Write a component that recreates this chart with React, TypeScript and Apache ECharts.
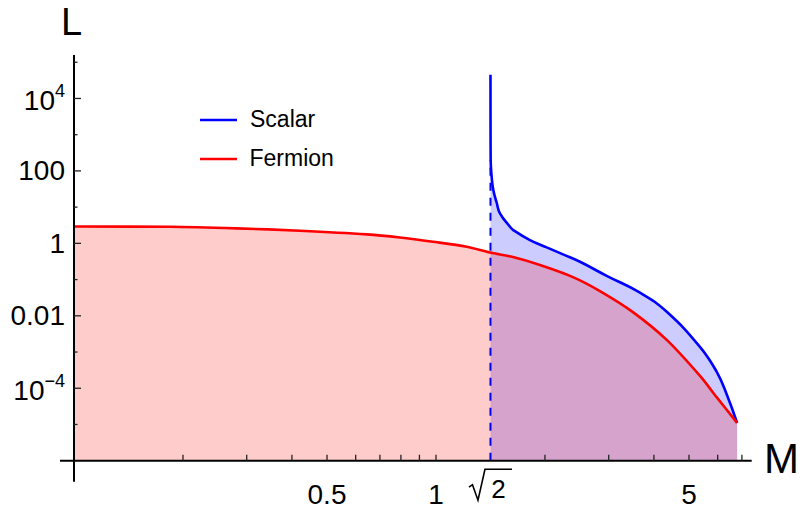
import React, { useEffect, useRef } from "react";
import * as echarts from "echarts";

// ---- data ----
const fermionM = [0.1, 0.184, 0.281, 0.421, 0.644, 0.795, 0.981, 1.216, 1.41, 1.632, 1.938, 2.39, 2.838, 3.5, 4.346, 5.37, 5.96, 6.79];
const fermionL = [2.91, 2.87, 2.6, 2.23, 1.77, 1.45, 1.107, 0.805, 0.557, 0.418, 0.252, 0.117, 0.0481, 0.01265, 0.00213, 2.16e-4, 5.68e-5, 1.11e-5];

const scalarM = [1.4143, 1.4148, 1.416, 1.425, 1.44, 1.472, 1.502, 1.601, 1.635, 1.818, 2.022, 2.243, 2.499, 2.961, 3.66, 4.34, 5.36, 5.96, 6.353, 6.79];
const scalarL = [45000, 2000, 200, 69, 29.7, 13, 6.74, 2.88, 2.33, 1.234, 0.775, 0.497, 0.31, 0.127, 0.0437, 0.0129, 1.39e-3, 2.88e-4, 6.87e-5, 1.11e-5];

const thresholdM = Math.SQRT2;
const thresholdL = [1e-6, 200];

const xTicks = [0.2, 0.3, 0.4, 0.5, 0.6, 0.7, 0.8, 0.9, 1, 2, 3, 4, 5, 6, 7];
const xLabelValues = [0.5, 1, Math.SQRT2, 5];
const xLabelTexts = ["0.5", "1", "√2", "5"];

const yTicks = [1e-5, 1e-4, 1e-3, 1e-2, 1e-1, 1, 10, 100, 1e3, 1e4, 1e5];
const yLabelValues = [1e-4, 1e-2, 1, 100, 1e4];
const yLabelBase = ["10", "0.01", "1", "100", "10"];
const yLabelExp = ["−4", "", "", "", "4"];

const legendNames = ["Scalar", "Fermion"];
const legendColors = ["#0000FF", "#FF0000"];

const X_MIN = 0.1;
const X_MAX = 7.45;
const Y_MIN = 1e-6;
const Y_MAX = Math.pow(10, 5.2);

const FONT = "'Liberation Sans', Arial, Helvetica, sans-serif";

function charW(s: string, size: number) {
  let w = 0;
  for (const ch of s) w += (ch === "−" ? 0.584 : 0.556) * size;
  return w;
}

function renderAxes(_params: any, api: any) {
  const [ox, oy] = api.coord([X_MIN, Y_MIN]);
  const top = api.coord([X_MIN, Y_MAX])[1];
  const right = api.coord([X_MAX, Y_MIN])[0];
  const children: any[] = [];
  const ln = (x1: number, y1: number, x2: number, y2: number, w: number, c: string) => ({
    type: "line",
    shape: { x1, y1, x2, y2 },
    style: { stroke: c, lineWidth: w },
  });
  const txt = (text: string, x: number, y: number, size: number, align: string) => ({
    type: "text",
    style: { text, x, y, fontSize: size, fontFamily: FONT, fill: "#000", align, verticalAlign: "middle" },
  });

  // axis lines (Mathematica-style crossing)
  children.push(ln(ox - 14, oy, right, oy, 2, "#000"));
  children.push(ln(ox, top, ox, oy + 21, 2, "#000"));

  // x ticks
  xTicks.forEach((v) => {
    const px = api.coord([v, Y_MIN])[0];
    children.push(ln(px, oy, px, oy - 6, 1.3, "#222"));
  });
  // y ticks
  yTicks.forEach((v) => {
    const py = api.coord([X_MIN, v])[1];
    const major = yLabelValues.some((l) => Math.abs(Math.log10(l) - Math.log10(v)) < 1e-6);
    children.push(ln(ox, py, ox + (major ? 7 : 3.5), py, 1.3, "#222"));
  });

  // x labels
  xLabelValues.forEach((v, i) => {
    const px = api.coord([v, Y_MIN])[0];
    const t = xLabelTexts[i];
    if (t === "√2") {
      children.push({
        type: "polyline",
        shape: {
          points: [
            [px - 21.5, oy + 26.5],
            [px - 18, oy + 24],
            [px - 12.5, oy + 39.5],
            [px - 5.5, oy + 8.5],
            [px + 21.5, oy + 8.5],
          ],
        },
        style: { stroke: "#000", lineWidth: 1.6, fill: "none" },
      });
      children.push(txt("2", px + 8, oy + 28, 26, "center"));
    } else {
      children.push(txt(t, px, oy + 33.5, 28, "center"));
    }
  });

  // y labels
  yLabelValues.forEach((v, i) => {
    const py = api.coord([X_MIN, v])[1];
    const exp = yLabelExp[i];
    const rightX = ox - 9;
    if (exp) {
      const ew = charW(exp, 18);
      children.push(txt(exp, rightX, py - 7, 18, "right"));
      children.push(txt(yLabelBase[i], rightX - ew, py + 2, 28, "right"));
    } else {
      children.push(txt(yLabelBase[i], rightX, py, 28, "right"));
    }
  });

  return { type: "group", children };
}

export default function App() {
  const ref = useRef<HTMLDivElement>(null);

  useEffect(() => {
    document.body.style.margin = "0";
    const chart = echarts.init(ref.current!, undefined, { renderer: "svg" });

    const scalarData = scalarM.map((m, i) => [m, scalarL[i]]);
    const fermionData = fermionM.map((m, i) => [m, fermionL[i]]);
    const thresholdData = thresholdL.map((l) => [thresholdM, l]);

    const option: any = {
      animation: false,
      backgroundColor: "#ffffff",
      grid: { left: 74, top: 55, right: 52.3, bottom: 55.3, containLabel: false },
      xAxis: {
        type: "log",
        logBase: 10,
        min: X_MIN,
        max: X_MAX,
        axisLine: { show: false },
        axisTick: { show: false },
        axisLabel: { show: false },
        splitLine: { show: false },
      },
      yAxis: {
        type: "log",
        logBase: 10,
        min: Y_MIN,
        max: Y_MAX,
        axisLine: { show: false },
        axisTick: { show: false },
        axisLabel: { show: false },
        splitLine: { show: false },
      },
      series: [
        {
          name: legendNames[0],
          type: "line",
          data: scalarData,
          showSymbol: false,
          smooth: 0.45,
          silent: true,
          z: 2,
          lineStyle: { color: legendColors[0], width: 2.6 },
          areaStyle: { color: legendColors[0], opacity: 0.2, origin: "start" },
        },
        {
          name: legendNames[1],
          type: "line",
          data: fermionData,
          showSymbol: false,
          smooth: 0.3,
          silent: true,
          z: 3,
          lineStyle: { color: legendColors[1], width: 2.6 },
          areaStyle: { color: legendColors[1], opacity: 0.2, origin: "start" },
        },
        {
          name: "threshold",
          type: "line",
          data: thresholdData,
          showSymbol: false,
          silent: true,
          z: 4,
          lineStyle: { color: legendColors[0], width: 2, type: [8, 7] },
        },
        {
          name: "axes",
          type: "custom",
          data: [[1, 1]],
          renderItem: renderAxes,
          silent: true,
          clip: false,
          z: 10,
        },
      ],
      graphic: [
        {
          type: "line",
          shape: { x1: 200, y1: 120, x2: 237, y2: 120 },
          style: { stroke: legendColors[0], lineWidth: 2.6 },
        },
        {
          type: "text",
          x: 250,
          y: 119,
          style: { text: legendNames[0], fontSize: 23, fontFamily: FONT, fill: "#000", align: "left", verticalAlign: "middle" },
        },
        {
          type: "line",
          shape: { x1: 200, y1: 159, x2: 237, y2: 159 },
          style: { stroke: legendColors[1], lineWidth: 2.6 },
        },
        {
          type: "text",
          x: 249.5,
          y: 158,
          style: { text: legendNames[1], fontSize: 23, fontFamily: FONT, fill: "#000", align: "left", verticalAlign: "middle" },
        },
        {
          type: "text",
          x: 61,
          y: 22,
          style: { text: "L", fontSize: 38, fontFamily: FONT, fill: "#000", align: "left", verticalAlign: "middle" },
        },
        {
          type: "text",
          x: 764,
          y: 458.5,
          style: { text: "M", fontSize: 42, fontFamily: FONT, fill: "#000", align: "left", verticalAlign: "middle" },
        },
      ],
    };

    chart.setOption(option);
    return () => chart.dispose();
  }, []);

  return <div ref={ref} style={{ width: 804, height: 516 }} />;
}
